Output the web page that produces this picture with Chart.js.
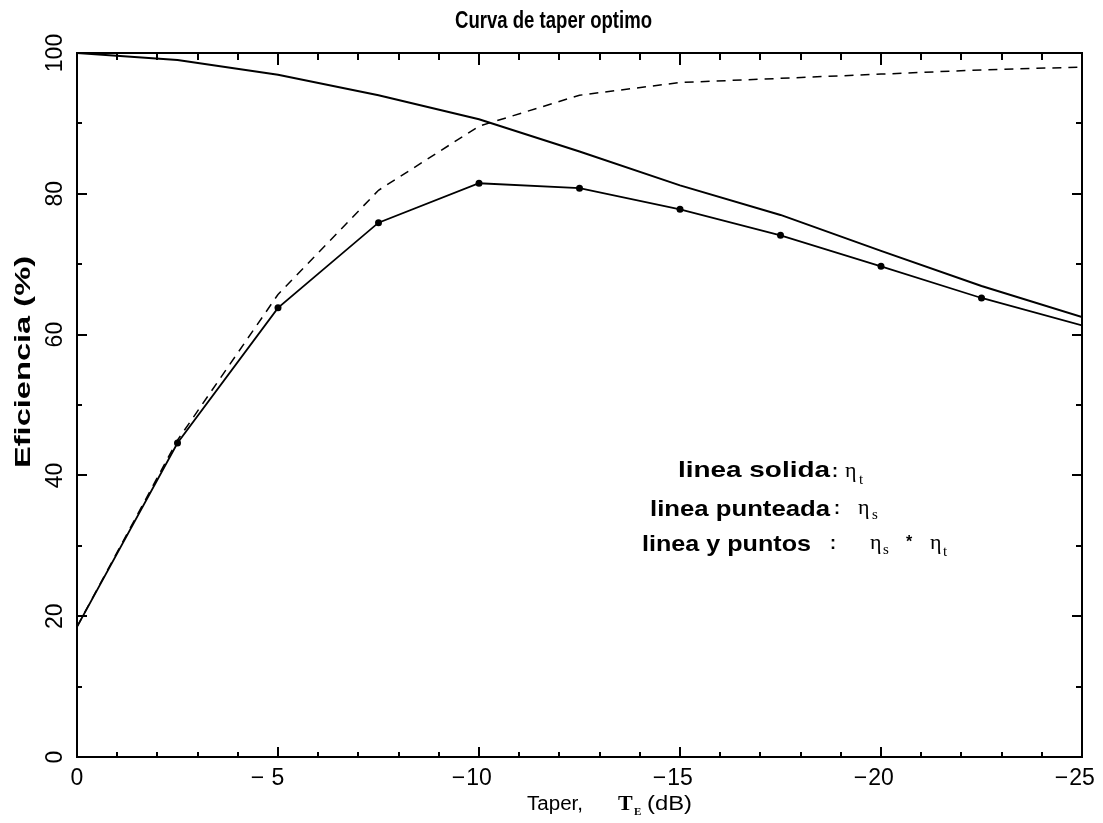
<!DOCTYPE html>
<html>
<head>
<meta charset="utf-8">
<title>Curva de taper optimo</title>
<script src="https://cdn.jsdelivr.net/npm/chart.js@4"></script>
<style>
  html, body { margin: 0; padding: 0; background: #fff; }
  #chart { display: block; }
</style>
</head>
<body>
<canvas id="chart" width="1103" height="823"></canvas>
<script>
// taper in dB and the three efficiency curves (%)
const taper = [0, -2.5, -5, -7.5, -10, -12.5, -15, -17.5, -20, -22.5, -25];
const etaT = [100, 99.0, 96.9, 94.0, 90.6, 86.0, 81.2, 77.0, 71.9, 66.9, 62.5];
const etaS = [18.5, 45.0, 65.7, 80.5, 89.6, 94.0, 95.8, 96.4, 97.0, 97.6, 98.0];
const etaTotal = [18.5, 44.6, 63.8, 75.9, 81.5, 80.8, 77.8, 74.1, 69.7, 65.2, 61.3];

const xTicks = [0, -5, -10, -15, -20, -25];
const yTicks = [0, 20, 40, 60, 80, 100];

const toPoints = ys => taper.map((x, i) => ({ x: x, y: ys[i] }));

function label(ctx, str, x, y, font, align, width) {
  ctx.save();
  ctx.font = font;
  ctx.textBaseline = 'alphabetic';
  const w = ctx.measureText(str).width;
  const sx = width ? width / w : 1;
  ctx.translate(x, y);
  ctx.scale(sx, 1);
  ctx.textAlign = align;
  ctx.fillText(str, 0, 0);
  ctx.restore();
}

const frame = {
  id: 'frame',
  afterDraw(chart) {
    const ctx = chart.ctx;
    const a = chart.chartArea;
    const xs = chart.scales.x;
    const ys = chart.scales.y;
    ctx.save();
    ctx.strokeStyle = '#000';
    ctx.fillStyle = '#000';

    // box
    ctx.lineWidth = 2;
    ctx.strokeRect(a.left, a.top, a.right - a.left, a.bottom - a.top);

    // inward ticks
    ctx.beginPath();
    for (let v = 0; v >= -25; v -= 1) {
      const px = Math.round(xs.getPixelForValue(v));
      const major = v % 5 === 0;
      ctx.moveTo(px, a.bottom);
      ctx.lineTo(px, a.bottom - (major ? 10 : 5));
      ctx.moveTo(px, a.top);
      ctx.lineTo(px, a.top + (major ? 12 : 7));
    }
    for (let v = 0; v <= 100; v += 10) {
      const py = Math.round(ys.getPixelForValue(v));
      const major = v % 20 === 0;
      ctx.moveTo(a.left, py);
      ctx.lineTo(a.left + (major ? 10 : 5), py);
      ctx.moveTo(a.right, py);
      ctx.lineTo(a.right - (major ? 10 : 6), py);
    }
    ctx.stroke();

    // x tick labels: digits centred on the tick, minus hanging left
    const tickFont = '23px "Liberation Sans"';
    ctx.font = tickFont;
    const half = ctx.measureText('00').width / 2;
    xTicks.forEach(v => {
      const px = xs.getPixelForValue(v);
      const digits = String(Math.abs(v));
      label(ctx, digits, px, 785, tickFont, 'center');
      if (v < 0) label(ctx, '\u2212', px - Math.max(half, ctx.measureText(digits).width / 2) - 1, 785, tickFont, 'right');
    });

    // y tick labels, rotated
    yTicks.forEach(v => {
      const py = ys.getPixelForValue(v);
      ctx.save();
      ctx.translate(a.left - 15, py);
      ctx.rotate(-Math.PI / 2);
      ctx.font = tickFont;
      ctx.textAlign = 'center';
      ctx.textBaseline = 'alphabetic';
      ctx.fillText(String(v), 0, 0);
      ctx.restore();
    });

    // title
    label(ctx, 'Curva de taper optimo', 553.5, 28, 'bold 23px "Liberation Sans"', 'center', 197);

    // y axis title
    ctx.save();
    ctx.translate(30, 362);
    ctx.rotate(-Math.PI / 2);
    label(ctx, 'Eficiencia (%)', 0, 0, 'bold 22px "Liberation Sans"', 'center', 212);
    ctx.restore();

    // x axis title
    label(ctx, 'Taper,', 527, 810, '20px "Liberation Sans"', 'left', 56);
    label(ctx, 'T', 618, 810, 'bold 22px "Liberation Serif"', 'left');
    label(ctx, 'E', 634, 815, 'bold 11px "Liberation Serif"', 'left');
    label(ctx, '(dB)', 647, 810, '20px "Liberation Sans"', 'left', 45);

    // curve key
    const bold = 'bold 22px "Liberation Sans"';
    const eta = '22px "Liberation Serif"';
    const sub = '15px "Liberation Serif"';
    label(ctx, 'linea solida', 678, 477, bold, 'left', 152);
    label(ctx, ':', 835, 477, 'bold 18px "Liberation Sans"', 'center');
    label(ctx, '\u03b7', 845, 477, eta, 'left');
    label(ctx, 't', 859, 484, sub, 'left');

    label(ctx, 'linea punteada', 650, 516, bold, 'left', 180);
    label(ctx, ':', 837, 514, 'bold 18px "Liberation Sans"', 'center');
    label(ctx, '\u03b7', 858, 514, eta, 'left');
    label(ctx, 's', 872, 519, sub, 'left');

    label(ctx, 'linea y puntos', 642, 551, bold, 'left', 169);
    label(ctx, ':', 833, 549, 'bold 18px "Liberation Sans"', 'center');
    label(ctx, '\u03b7', 870, 549, eta, 'left');
    label(ctx, 's', 883, 554, sub, 'left');
    label(ctx, '*', 909, 547, 'bold 16px "Liberation Sans"', 'center');
    label(ctx, '\u03b7', 930, 549, eta, 'left');
    label(ctx, 't', 943, 556, sub, 'left');

    ctx.restore();
  }
};

new Chart(document.getElementById('chart'), {
  type: 'line',
  data: {
    datasets: [
      {
        label: '\u03b7t',
        data: toPoints(etaT),
        borderColor: '#000',
        borderWidth: 2,
        pointRadius: 0
      },
      {
        label: '\u03b7s',
        data: toPoints(etaS),
        borderColor: '#000',
        borderWidth: 1.5,
        borderDash: [9, 7],
        pointRadius: 0
      },
      {
        label: '\u03b7s * \u03b7t',
        data: toPoints(etaTotal),
        borderColor: '#000',
        borderWidth: 1.8,
        pointRadius: c => (c.dataIndex === 0 || c.dataIndex === taper.length - 1) ? 0 : 3.5,
        pointBackgroundColor: '#000',
        pointBorderWidth: 0
      }
    ]
  },
  options: {
    responsive: false,
    animation: false,
    layout: { padding: { left: 77, right: 21, top: 53, bottom: 66 } },
    elements: { line: { tension: 0 } },
    plugins: {
      legend: { display: false },
      tooltip: { enabled: false },
      title: { display: false }
    },
    scales: {
      x: { type: 'linear', min: -25, max: 0, reverse: true, display: false },
      y: { type: 'linear', min: 0, max: 100, display: false }
    }
  },
  plugins: [frame]
});
</script>
</body>
</html>
